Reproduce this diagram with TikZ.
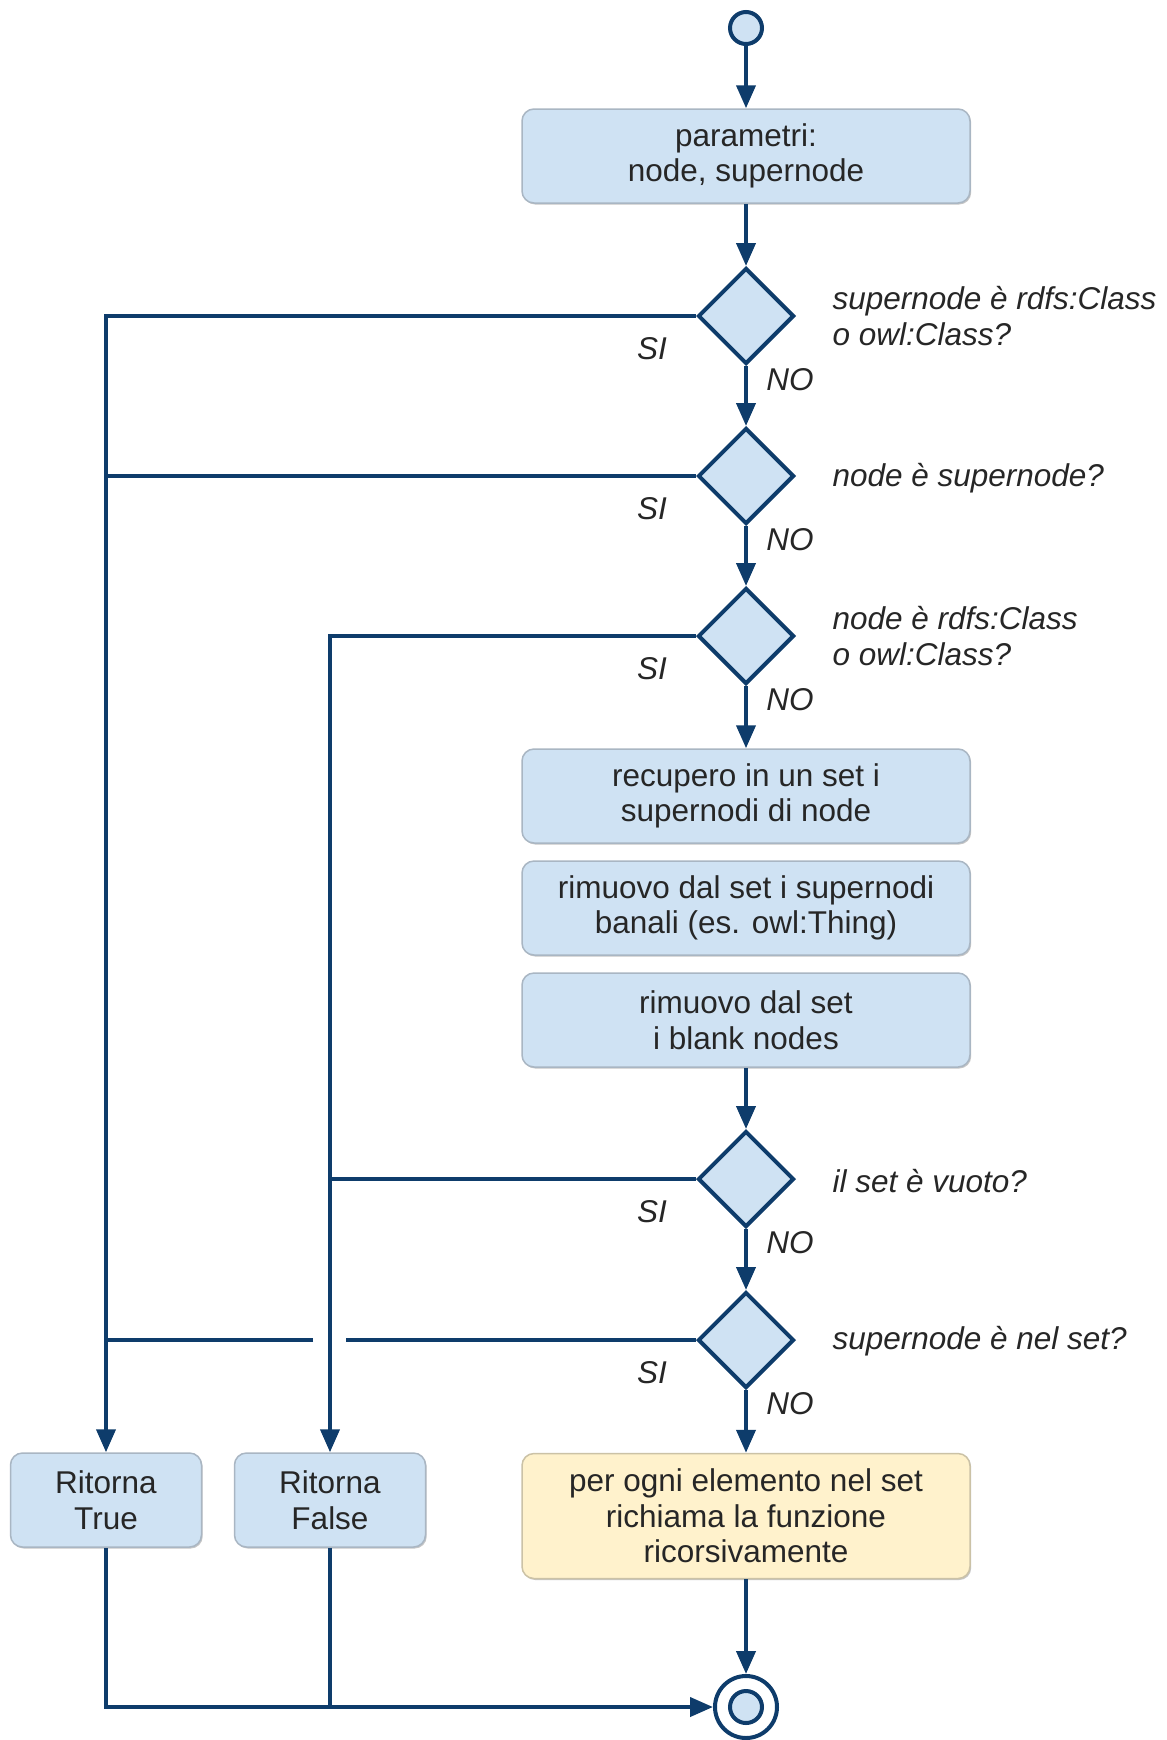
\documentclass[tikz,border=0pt]{standalone}
\usepackage{fontspec}
\setmainfont{Liberation Sans}
\usetikzlibrary{arrows.meta,shapes.geometric,shadows}
\definecolor{flowblue}{HTML}{0E3C6B}
\definecolor{boxblue}{HTML}{CFE2F3}
\definecolor{boxedge}{HTML}{A9B6C3}
\definecolor{boxyellow}{HTML}{FFF2CC}
\definecolor{yellowedge}{HTML}{CBC2A6}
\definecolor{txt}{HTML}{262626}

\begin{document}
\begin{tikzpicture}[x=1pt,y=-1pt,
  every node/.style={text=txt, font=\fontsize{31.5}{35.5}\selectfont},
  stepbox/.style={rectangle, rounded corners=12pt, fill=boxblue, draw=boxedge,
    line width=1.5pt, minimum width=448pt, minimum height=94pt, align=center,
    inner sep=0pt, drop shadow={shadow xshift=1.2pt, shadow yshift=-1.5pt, fill=gray!45, opacity=1}},
  callbox/.style={stepbox, fill=boxyellow, draw=yellowedge, minimum height=125pt},
  retbox/.style={stepbox, minimum width=191pt},
  decision/.style={diamond, fill=boxblue, draw=flowblue, line width=4pt,
    minimum width=96pt, minimum height=96pt, inner sep=0pt},
  question/.style={anchor=west, align=left, font=\fontsize{31.5}{35.5}\selectfont\itshape},
  answer/.style={font=\fontsize{31.5}{35.5}\selectfont\itshape},
  flow/.style={draw=flowblue, line width=4pt, -{Triangle[length=23pt,width=19pt]}},
  wire/.style={draw=flowblue, line width=4pt},
  startdot/.style={circle, fill=boxblue, draw=flowblue, line width=4pt, minimum size=32pt, inner sep=0pt}
]
\fill[white] (0,0) rectangle (1167,1740);
\useasboundingbox (0,0) rectangle (1167,1740);

% start and parameters
\node[startdot] (start) at (746,28) {};
\node[stepbox] (params) at (746,156) {parametri:\\node, supernode};

% decisions
\node[decision] (d1) at (746,316) {};
\node[decision] (d2) at (746,476) {};
\node[decision] (d3) at (746,636) {};

\node[question] (q1) at (829,316) {supernode è rdfs:Class\\o owl:Class?};
\node[question] (q2) at (829,478) {node è supernode?};
\node[question] (q3) at (829,636) {node è rdfs:Class\\o owl:Class?};

% set handling
\node[stepbox] (fetch) at (746,796) {recupero in un set i\\supernodi di node};
\node[stepbox] (trivial) at (746,908) {rimuovo dal set i supernodi\\banali (es. owl:Thing)};
\node[stepbox] (blank) at (746,1020) {rimuovo dal set\\i blank nodes};

\node[decision] (d4) at (746,1179) {};
\node[decision] (d5) at (746,1340) {};
\node[question] (q4) at (829,1181) {il set è vuoto?};
\node[question] (q5) at (829,1341) {supernode è nel set?};

% results
\node[callbox] (recur) at (746,1516) {per ogni elemento nel set\\richiama la funzione\\ricorsivamente};
\node[retbox] (rtrue) at (106,1500) {Ritorna\\True};
\node[retbox] (rfalse) at (330,1500) {Ritorna\\False};

% end
\node[circle, draw=flowblue, fill=white, line width=4pt, minimum size=62pt, inner sep=0pt] (stop) at (746,1707) {};
\node[startdot] at (stop.center) {};

% answer labels
\foreach \d in {d1,d2,d3,d4,d5}{
  \node[answer] at ([xshift=-94pt,yshift=-33pt]\d.center) {SI};
  \node[answer] at ([xshift=44pt,yshift=-64pt]\d.center) {NO};
}

% main column
\draw[flow] (start) -- (params);
\draw[flow] (params) -- (d1);
\draw[flow] (d1) -- (d2);
\draw[flow] (d2) -- (d3);
\draw[flow] (d3) -- (fetch);
\draw[flow] (blank) -- (d4);
\draw[flow] (d4) -- (d5);
\draw[flow] (d5) -- (recur);
\draw[flow] (recur) -- (stop);

% yes branches
\draw[flow] (d1.west) -| (rtrue.north);
\draw[wire] (d2.west) -- (d2.west -| rtrue.north);
\draw[flow] (d3.west) -| (rfalse.north);
\draw[wire] (d4.west) -- (d4.west -| rfalse.north);
\coordinate (gapR) at ([xshift=16pt]d5.west -| rfalse.north);
\coordinate (gapL) at ([xshift=-17pt]d5.west -| rfalse.north);
\draw[wire] (d5.west) -- (gapR);
\draw[wire] (gapL) -- (d5.west -| rtrue.north);

% returns to the end
\draw[flow] (rtrue.south) |- (stop.west);
\draw[wire] (rfalse.south) -- (rfalse.south |- stop.west);
\end{tikzpicture}
\end{document}
